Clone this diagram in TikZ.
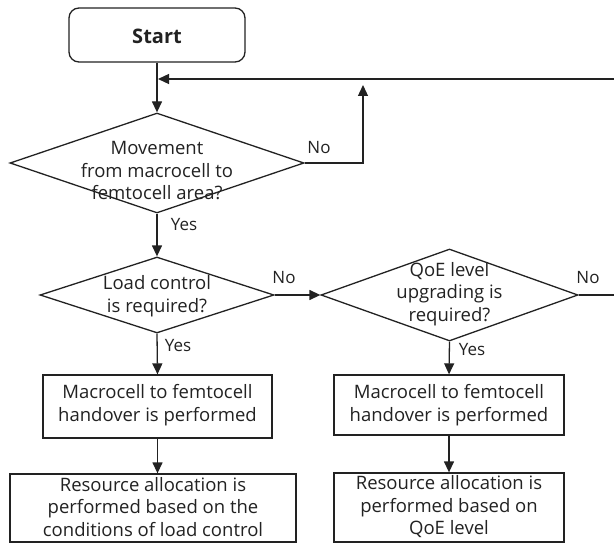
\documentclass[tikz,border=0pt]{standalone}
\usepackage{fontspec}
\setmainfont{Open Sans}
\usetikzlibrary{shapes.geometric,arrows.meta}
\definecolor{ink}{HTML}{222222}
\begin{document}
\begin{tikzpicture}[x=1pt,y=-1pt,
  line/.style={line width=1.3pt,draw=ink},
  arr/.style={line,-{Triangle[length=11pt,width=10pt]}},
  dia/.style={shape=diamond,draw=ink,line width=1.3pt,inner sep=0pt},
  box/.style={shape=rectangle,draw=ink,line width=1.3pt,inner sep=0pt},
  txt/.style={align=center,inner sep=0pt,text=ink,font=\fontsize{18.5}{22.5}\selectfont},
  lbl/.style={inner sep=0pt,text=ink,font=\fontsize{17}{20}\selectfont}
]
\useasboundingbox (0,0) rectangle (614,543);
\fill[white] (0,0) rectangle (614,543);

% start
\node[box,rounded corners=10pt,minimum width=176pt,minimum height=54pt] (start) at (157,35) {};
\node[txt,font=\fontsize{20}{24}\selectfont\bfseries] (starttxt) at (157,36) {Start};

% diamonds
\node[dia,minimum width=294pt,minimum height=100pt] (d1) at (157,163) {};
\node[txt] (d1txt) at (157,171) {Movement\\from macrocell to\\femtocell area?};

\node[dia,minimum width=234pt,minimum height=76pt] (d2) at (157,295) {};
\node[txt] (d2txt) at (157,296) {Load control\\is required?};

\node[dia,minimum width=257pt,minimum height=92pt] (d3) at (449.5,295) {};
\node[txt] (d3txt) at (449.5,294) {QoE level\\upgrading is\\required?};

% boxes
\node[box,minimum width=229pt,minimum height=63pt] (b1) at (157.5,406.5) {};
\node[txt] (b1txt) at (157.5,405) {Macrocell to femtocell\\handover is performed};

\node[box,minimum width=230pt,minimum height=60pt] (b2) at (449,405) {};
\node[txt] (b2txt) at (449,405) {Macrocell to femtocell\\handover is performed};

\node[box,minimum width=286pt,minimum height=68pt] (b3) at (153,508) {};
\node[txt] (b3txt) at (153,507) {Resource allocation is\\performed based on the\\conditions of load control};

\node[box,minimum width=230pt,minimum height=69pt] (b4) at (449,507.5) {};
\node[txt] (b4txt) at (449,507) {Resource allocation is\\performed based on\\QoE level};

% labels
\node[lbl] (no1) at (319,148) {No};
\node[lbl] (yes1) at (184,225) {Yes};
\node[lbl] (no2) at (284,278) {No};
\node[lbl] (yes2) at (178,346) {Yes};
\node[lbl] (yes3) at (472,350) {Yes};
\node[lbl] (no3) at (588,278) {No};

% coordinates
\coordinate (upc) at (363,163);
\coordinate (upend) at (363,85);
\coordinate (rc1) at (620,295);
\coordinate (rc2) at (620,79);
\coordinate (loopend) at (158,79);

% connectors
\draw[arr] (start.south) -- (d1.north);
\draw[arr] (d1.east) -- (upc) -- (upend);
\draw[arr] (d3.east) -- (rc1) -- (rc2) -- (loopend);
\draw[arr] (d1.south) -- (d2.north);
\draw[arr] (d2.east) -- (d3.west);
\draw[arr] (d2.south) -- (b1.north);
\draw[arr] (d3.south) -- (b2.north);
\draw[arr] (b1.south) -- (b1.south |- b3.north);
\draw[arr] (b2.south) -- (b4.north);
\end{tikzpicture}
\end{document}
